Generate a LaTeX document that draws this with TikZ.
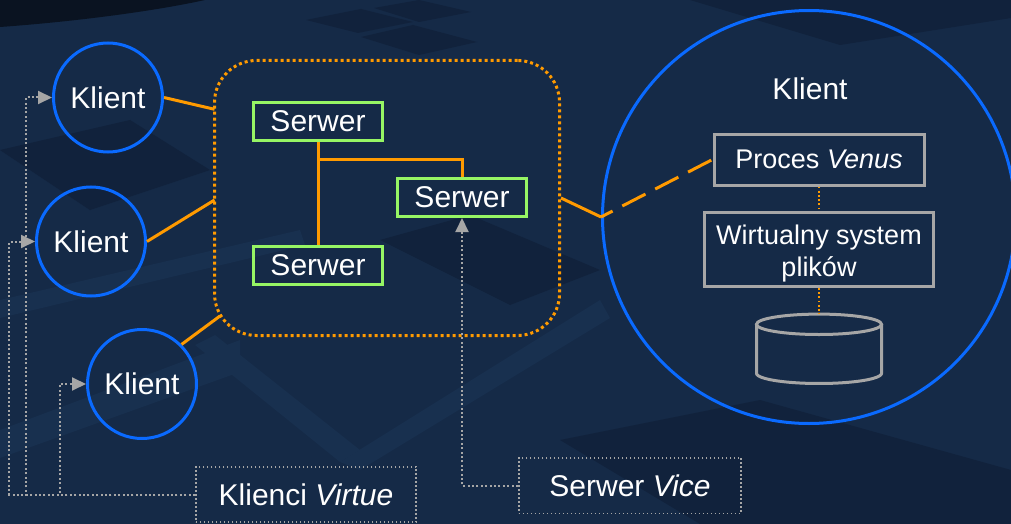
\documentclass[tikz,border=0pt]{standalone}
\usepackage{fontspec}
\setmainfont{Liberation Sans}
\usetikzlibrary{arrows.meta}
\definecolor{bg}{HTML}{152A47}
\definecolor{bgdark}{HTML}{11223C}
\definecolor{bglight}{HTML}{18304F}
\definecolor{corner}{HTML}{0A1321}
\definecolor{cblue}{HTML}{0A6AFF}
\definecolor{cgreen}{HTML}{96F564}
\definecolor{corange}{HTML}{FF9A00}
\definecolor{cgrey}{HTML}{A6A6A6}
\begin{document}
\begin{tikzpicture}[x=1pt,y=-1pt,
  txt/.style={text=white, font=\fontsize{30}{36}\selectfont},
  smalltxt/.style={text=white, font=\fontsize{27}{33}\selectfont},
  klient/.style={circle, draw=cblue, line width=3pt, minimum size=109pt, inner sep=0pt, txt},
  srv/.style={draw=cgreen, line width=3pt, minimum width=129pt, minimum height=38pt, inner sep=0pt, txt},
  gbox/.style={draw=cgrey, line width=3pt, inner sep=0pt, smalltxt},
  lbl/.style={draw=cgrey, line width=1.6pt, dash pattern=on 1.6pt off 2.4pt, inner sep=0pt, minimum height=55.5pt, txt},
  olink/.style={draw=corange, line width=3pt},
  odots/.style={draw=corange, line width=1.8pt, dash pattern=on 1.8pt off 2.4pt},
  vlink/.style={draw=cgrey, line width=2pt, dash pattern=on 2pt off 2.4pt, -{Triangle[length=14pt,width=13pt]}},
]
\useasboundingbox (0,0) rectangle (1011,524);
% backdrop
\fill[bg] (0,0) rectangle (1011,524);
\fill[bgdark] (306,20) -- (361,9) -- (413,22) -- (358,33) -- cycle;
\fill[bgdark] (374,8) -- (419,0) -- (471,12) -- (419,22) -- cycle;
\fill[bgdark] (361,37) -- (413,25) -- (477,42) -- (419,55) -- cycle;
\fill[bgdark] (690,0) -- (1011,0) -- (1011,18) -- (840,45) -- cycle;
\fill[bgdark] (0,150) -- (130,120) -- (210,170) -- (90,210) -- cycle;
\fill[bgdark] (380,240) -- (470,215) -- (600,270) -- (510,305) -- cycle;
\fill[bgdark] (560,440) -- (760,400) -- (1011,470) -- (1011,524) -- (700,524) -- cycle;
\fill[bglight] (0,430) -- (240,340) -- (240,372) -- (0,458) -- cycle;
\fill[bglight] (195,345) -- (215,335) -- (360,450) -- (340,462) -- cycle;
\fill[bglight] (340,462) -- (600,300) -- (610,318) -- (360,470) -- cycle;
\fill[bglight] (0,300) -- (300,230) -- (305,245) -- (0,318) -- cycle;
\fill[corner] (0,0) -- (205,0) .. controls (150,12) and (70,22) .. (0,27) -- cycle;

% server cluster
\node[draw=corange, line width=3pt, dash pattern=on 3pt off 3pt, rounded corners=42pt,
      minimum width=345pt, minimum height=275pt, inner sep=0pt] (grp) at (387,198) {};
\node[srv] (s1) at (318,121.5) {Serwer};
\node[srv] (s2) at (318,265) {Serwer};
\node[srv] (s3) at (462,197.5) {Serwer};
\coordinate (fork) at (318,159.5);
\draw[olink] (s1.south) -- (s2.north);
\draw[olink] (fork) -| (s3.north);

% clients
\node[klient] (k1) at (108,97.5) {Klient};
\node[klient] (k2) at (91,241.5) {Klient};
\node[klient] (k3) at (142,384) {Klient};
\coordinate (g1) at (214.5,109.3);
\coordinate (g2) at (214.5,200);
\coordinate (g3) at (220,316);
\draw[olink] (k1.east) -- (g1);
\draw[olink] (k2.east) -- (g2);
\draw[olink] (k3.north east) -- (g3);

% client machine in detail
\node[circle, draw=cblue, line width=3pt, minimum size=413pt, inner sep=0pt] (big) at (809,217) {};
\node[txt] (kbig) at (810,89) {Klient};
\node[gbox, minimum width=210pt, minimum height=51pt] (venus) at (819,159.5) {Proces \textit{Venus}};
\node[gbox, minimum width=229pt, minimum height=74pt] (vfs) at (819,249.5) {};
\node[smalltxt, anchor=base, inner sep=0pt] (vfs1) at (819,244) {Wirtualny system};
\node[smalltxt, anchor=base, inner sep=0pt] (vfs2) at (819,276.7) {plików};
\coordinate (cyltop) at (819,314.1);
\draw[cgrey, line width=3pt] (819,324.3) ellipse [x radius=62.5, y radius=10.2];
\draw[cgrey, line width=3pt] (756.5,324.3) -- (756.5,373.3)
  -- plot[domain=180:360, samples=60] ({819+62.5*cos(\x)}, {373.3-10.2*sin(\x)})
  -- (881.5,324.3);
\draw[odots] (venus.south) -- (vfs.north);
\draw[odots] (vfs.south) -- (cyltop);

\draw[olink] (grp.east) -- (big.west);
\draw[olink, dash pattern=on 26pt off 11pt, dash phase=13pt] (big.west) -- (venus.west);

% labels
\node[lbl, minimum width=220.5pt] (virtue) at (306,494.5) {Klienci \textit{Virtue}};
\node[lbl, minimum width=222.5pt] (vice) at (630,485.7) {Serwer \textit{Vice}};
\coordinate (c1) at (26,494.5);
\coordinate (c2) at (9.3,494.5);
\coordinate (c3) at (60,494.5);
\draw[vlink] (virtue.west) -- (c1) |- (k1.west);
\draw[vlink] (virtue.west) -- (c2) |- (k2.west);
\draw[vlink] (virtue.west) -- (c3) |- (k3.west);
\draw[vlink] (vice.west) -| (s3.south);
\end{tikzpicture}
\end{document}
